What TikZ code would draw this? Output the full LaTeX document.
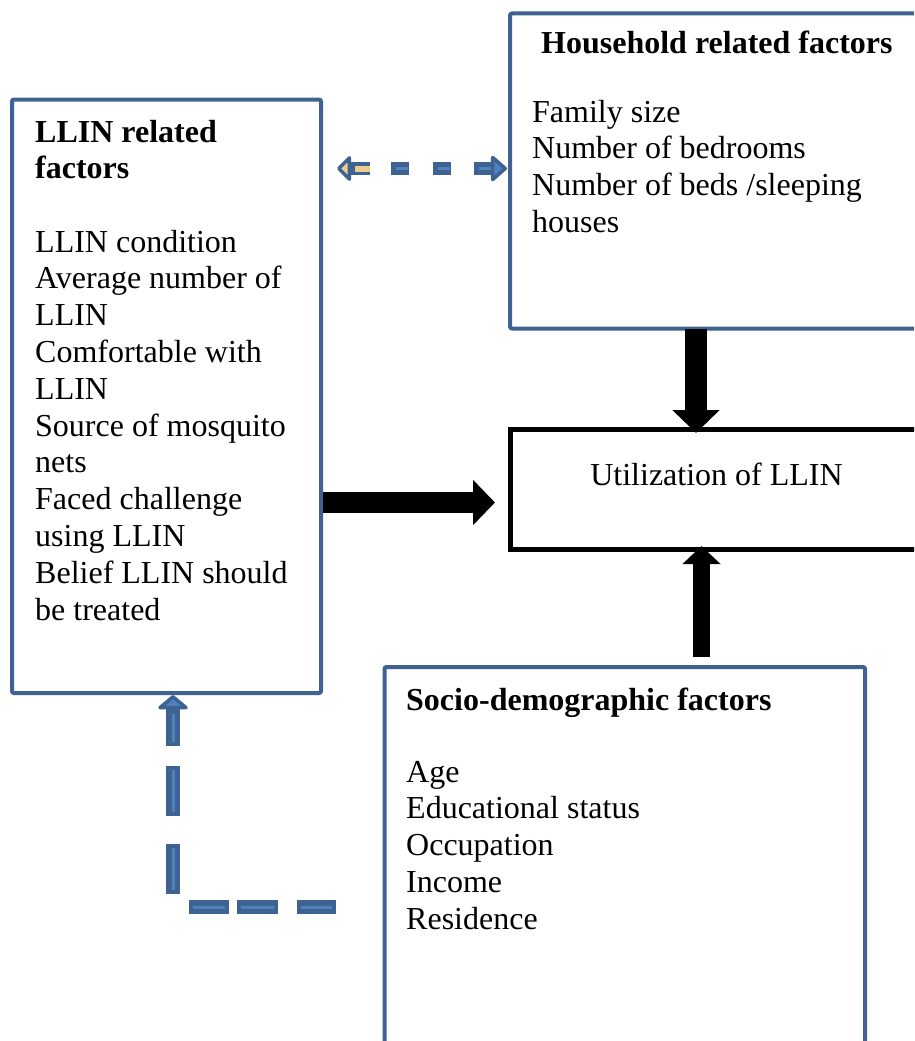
\documentclass[tikz,border=0pt]{standalone}
\usepackage{fontspec}
\setmainfont{Liberation Serif}
\usetikzlibrary{arrows.meta,calc}
\definecolor{dblue}{HTML}{3E6292}
\definecolor{lblue}{HTML}{4F81BD}
\definecolor{tanc}{HTML}{EDCB8C}
\begin{document}
\begin{tikzpicture}[x=1pt,y=-1pt,
  bluebox/.style={draw=dblue,line width=4pt,rounded corners=2pt,inner sep=0pt,outer sep=0pt,anchor=north west},
  blackbox/.style={draw=black,line width=4.5pt,inner sep=0pt,outer sep=0pt,anchor=north west},
  txt/.style={anchor=base west,inner sep=0pt,font=\fontsize{32}{36.8}\selectfont},
  hd/.style={anchor=base west,inner sep=0pt,font=\fontsize{32}{36.8}\selectfont\bfseries},
  bigarrow/.style={draw=black,line width=22pt,-{Triangle[length=23pt,width=46pt]}},
  dashouter/.style={draw=dblue,line width=13pt},
  dashinner/.style={draw=lblue,line width=3pt}
]
\useasboundingbox (0,0) rectangle (914,1041);
\clip (0,0) rectangle (914,1041);

% boxes
\node[bluebox,minimum width=309pt,minimum height=593.5pt] (llin) at (12,99.5) {};
\node[bluebox,minimum width=407pt,minimum height=315pt] (hh) at (510,13.5) {};
\node[blackbox,minimum width=407pt,minimum height=120pt] (util) at (510.5,429.5) {};
\node[bluebox,minimum width=480.5pt,minimum height=420pt] (socio) at (384.5,667) {};

% texts
\node[hd] (llinh1) at (35,142) {LLIN related};
\node[hd] (llinh2) at (35,178.8) {factors};
\foreach \t [count=\i from 0] in {LLIN condition,Average number of,LLIN,Comfortable with,LLIN,Source of mosquito,nets,Faced challenge,using LLIN,Belief LLIN should,be treated}
  \node[txt] (llinl\i) at (35,252+36.8*\i) {\t};

\node[hd] (hhh) at (541,53) {Household related factors};
\foreach \t [count=\i from 0] in {Family size,Number of bedrooms,Number of beds /sleeping,houses}
  \node[txt] (hhl\i) at (532,122+36.8*\i) {\t};

\node[anchor=base,inner sep=0pt,font=\fontsize{32}{36.8}\selectfont] (utilt) at (716.5,485) {Utilization of LLIN};

\node[hd] (socioh) at (406,710) {Socio-demographic factors};
\foreach \t [count=\i from 0] in {Age,Educational status,Occupation,Income,Residence}
  \node[txt] (sociol\i) at (406,782+36.8*\i) {\t};

% black block arrows
\draw[bigarrow] ($(hh.south west)+(186,0)$) -- ($(util.north west)+(185.5,3.5)$);
\draw[draw=black,line width=21pt,-{Triangle[length=22pt,width=44pt]}] ($(llin.north east)+(2,403)$) -- ($(util.west)+(-15.5,13)$);
\draw[draw=black,line width=17pt,-{Triangle[length=18pt,width=37pt]}] ($(socio.north west)+(317,-10)$) -- ($(util.south west)+(191,-3.5)$);

% dashed double arrow (LLIN <-> household)
\coordinate (da) at ($(llin.north east)+(16,69)$);
\coordinate (db) at ($(hh.north west)+(-3,155)$);
\draw[dashouter,dash pattern=on 20pt off 21pt on 18pt off 24pt on 18pt off 23pt on 40pt,
  {Triangle[length=15pt,width=29pt,line width=3.5pt,round,color=dblue,fill=tanc]}-{Triangle[length=17pt,width=29pt,line width=3.5pt,round,color=dblue,fill=lblue]}]
  (da) -- (db);
\draw[draw=tanc,line width=6pt,dash pattern=on 0pt off 18pt on 15pt off 300pt] (da) -- (db);
\draw[dashinner,dash pattern=on 0pt off 59pt on 12pt off 30pt on 12pt off 29pt on 12pt off 300pt] (da) -- (db);

% dashed elbow arrow (socio -> LLIN)
\coordinate (ea) at ($(socio.north west)+(-48.5,240)$);
\coordinate (eb) at ($(llin.south west)+(161,2)$);
\draw[dashouter,line width=14pt,dash pattern=on 39pt off 19pt on 41pt off 8pt on 40pt off 29pt on 50pt off 28pt on 50pt off 20pt on 300pt,
  -{Triangle[length=15pt,width=35pt,line width=3.5pt,round,color=dblue,fill=lblue]}]
  (ea) -| (eb);
\draw[dashinner,dash pattern=on 0pt off 4pt on 31pt off 27pt on 33pt off 16pt on 32pt off 37pt on 42pt off 36pt on 42pt off 28pt on 28pt off 300pt]
  (ea) -| (eb);
\end{tikzpicture}
\end{document}
